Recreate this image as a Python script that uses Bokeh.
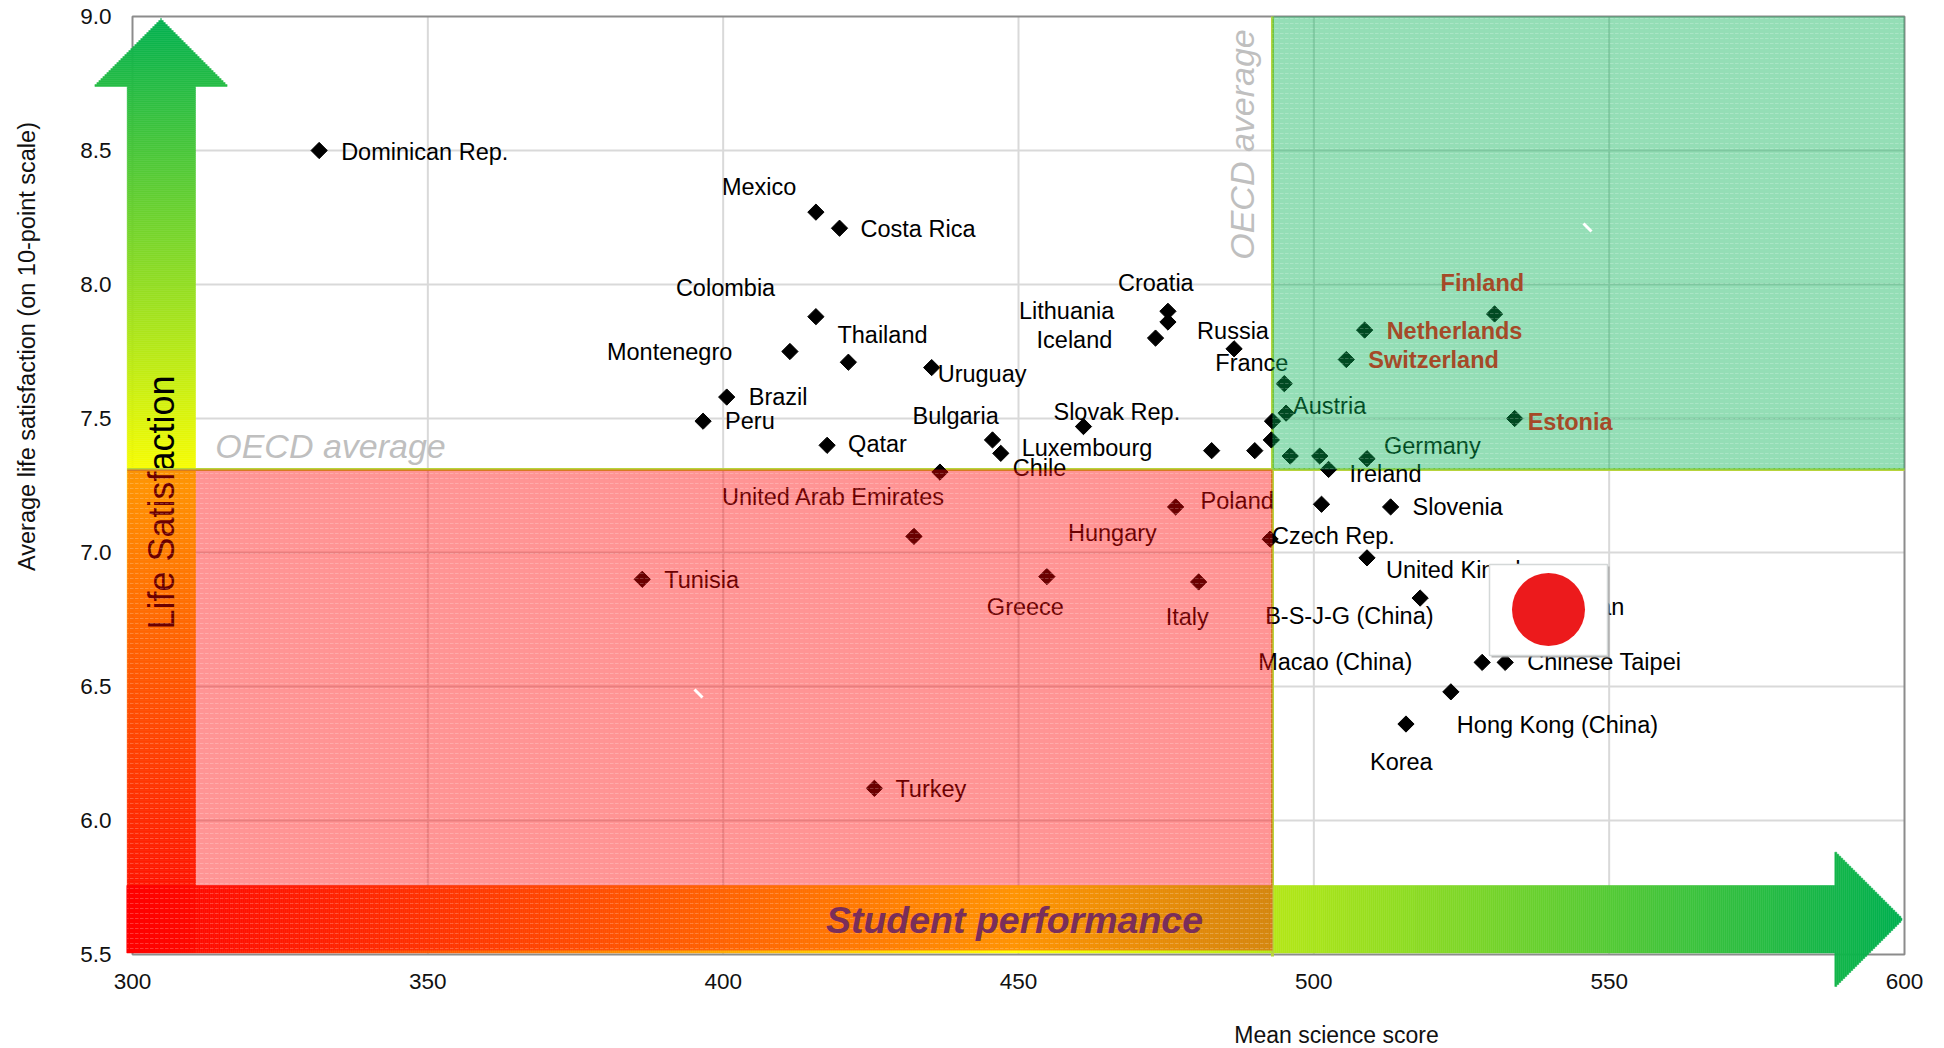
import math
from bokeh.plotting import figure
from bokeh.models import ColumnDataSource, FixedTicker, NumeralTickFormatter
from bokeh.core.properties import value
from bokeh.embed import file_html
from bokeh.resources import INLINE

# ---------------- data ----------------
countries = ["Dominican Rep.", "Mexico", "Costa Rica", "Colombia", "Montenegro", "Thailand", "Brazil", "Peru",
             "Qatar", "Uruguay", "Bulgaria", "Chile", "Luxembourg", "Slovak Rep.", "Croatia", "Lithuania",
             "Iceland", "Russia", "France", "Austria", "Germany", "Ireland", "Slovenia", "Czech Rep.",
             "United Kingdom", "B-S-J-G (China)", "Macao (China)", "Chinese Taipei", "Hong Kong (China)", "Korea",
             "Japan", "United Arab Emirates", "Hungary", "Poland", "Tunisia", "Greece", "Italy", "Turkey",
             "", "", "", "", "", ""]
science = [331.6, 415.7, 419.7, 415.7, 411.3, 421.2, 400.6, 396.6,
           417.6, 435.3, 445.6, 447.0, 482.7, 461.0, 475.3, 475.3,
           473.2, 486.5, 495.0, 495.3, 509.0, 502.5, 513.0, 492.6,
           509.0, 518.0, 528.5, 532.4, 523.2, 515.6,
           538.0, 436.7, 432.3, 476.6, 386.3, 454.8, 480.5, 425.6,
           493.0, 492.8, 490.0, 496.0, 501.0, 501.3]
life = [8.50, 8.27, 8.21, 7.88, 7.75, 7.71, 7.58, 7.49,
        7.40, 7.69, 7.42, 7.37, 7.38, 7.47, 7.90, 7.86,
        7.80, 7.76, 7.63, 7.52, 7.35, 7.31, 7.17, 7.05,
        6.98, 6.83, 6.59, 6.59, 6.48, 6.36,
        6.80, 7.30, 7.06, 7.17, 6.90, 6.91, 6.89, 6.12,
        7.49, 7.42, 7.38, 7.36, 7.36, 7.18]
top_countries = ["Finland", "Netherlands", "Switzerland", "Estonia"]
top_science = [530.6, 508.6, 505.5, 534.0]
top_life = [7.89, 7.83, 7.72, 7.50]
x_ticks = [300, 350, 400, 450, 500, 550, 600]
y_ticks = [5.5, 6.0, 6.5, 7.0, 7.5, 8.0, 8.5, 9.0]
oecd_science = 493
oecd_life = 7.31

# ---------------- layout: label offsets in px (left edge, vertical centre) ----------------
label_offset = {
    "Dominican Rep.": (22, 1), "Mexico": (-94, -25), "Costa Rica": (21, 1), "Colombia": (-140, -29),
    "Montenegro": (-183, 0), "Thailand": (-11, -27), "Brazil": (22, 0), "Peru": (22, 0), "Qatar": (21, -1),
    "Uruguay": (6, 6), "Bulgaria": (-80, -24), "Chile": (12, 15), "Luxembourg": (-190, -3),
    "Slovak Rep.": (-30, -15), "Croatia": (-50, -28.5), "Lithuania": (-149, -11), "Iceland": (-119, 2),
    "Russia": (-37, -18), "France": (-69, -21), "Austria": (7, -7), "Germany": (17, -13), "Ireland": (21, 5),
    "Slovenia": (22, 0), "Czech Rep.": (2, -3), "United Kingdom": (19, 12), "B-S-J-G (China)": (-155, 18),
    "Macao (China)": (-224, 0), "Chinese Taipei": (22, 0), "Hong Kong (China)": (6, 33), "Korea": (-36, 38),
    "Japan": (22, 1), "United Arab Emirates": (-218, 25), "Hungary": (154, -3.5), "Poland": (25, -6),
    "Tunisia": (22, 1), "Greece": (-60, 30), "Italy": (-33, 35), "Turkey": (21, 1),
    "Finland": (-54, -31), "Netherlands": (22, 1), "Switzerland": (22, 0), "Estonia": (13, 3),
}

FONT = value("Liberation Sans")
W, H = 1940, 1048
# picture pixel positions of the plot box
PX_L, PX_R, PY_T, PY_B = 132.0, 1904.0, 16.0, 954.0
SX = (PX_R - PX_L) / 300.0
SY = (PY_B - PY_T) / 3.5
def X(px):
    return 300 + (px - PX_L) / SX
def Y(py):
    return 9 - (py - PY_T) / SY

p = figure(width=W, height=H, output_backend="svg", toolbar_location=None,
           x_range=(X(0), X(W)), y_range=(Y(H), Y(0)),
           min_border_left=0, min_border_right=0, min_border_top=0, min_border_bottom=0)
p.outline_line_color = None
p.background_fill_color = "white"
p.grid.visible = False

for ax, ticks, loc in ((p.xaxis[0], x_ticks, 5.5), (p.yaxis[0], y_ticks, 300)):
    ax.ticker = FixedTicker(ticks=ticks)
    ax.fixed_location = loc
    ax.axis_line_color = None
    ax.major_tick_line_color = None
    ax.minor_tick_line_color = None
    ax.major_tick_out = 0
    ax.major_tick_in = 0
    ax.major_label_text_font = "Liberation Sans"
    ax.major_label_text_font_size = "22.5px"
    ax.major_label_text_color = "#111111"
p.xaxis[0].major_label_standoff = 19
p.yaxis[0].major_label_standoff = 21
p.yaxis[0].formatter = NumeralTickFormatter(format="0.0")

# grid lines, limited to the plot box
p.segment(x0=x_ticks[1:-1], x1=x_ticks[1:-1], y0=[5.5] * 5, y1=[9] * 5, line_color="#d9d9d9", line_width=2)
p.segment(x0=[300] * 6, x1=[600] * 6, y0=y_ticks[1:-1], y1=y_ticks[1:-1], line_color="#d9d9d9", line_width=2)
p.quad(left=[300], right=[600], bottom=[5.5], top=[9], fill_color=None, line_color="#8c8c8c", line_width=2)

# ---------------- gradient arrows ----------------
def grad(t):
    """t=0 red, .5 yellow, 1 green"""
    red, yel, grn = (255, 0, 0), (255, 255, 0), (0, 176, 80)
    a, b, f = (red, yel, t / .5) if t < .5 else (yel, grn, (t - .5) / .5)
    return "#%02x%02x%02x" % tuple(round(a[i] + (b[i] - a[i]) * f) for i in range(3))

# vertical arrow
slices = {k: [] for k in "lrbtc"}
V_L, V_R, V_HL, V_HR, V_TIP, V_NECK, V_BOT = 126.7, 195.0, 92.7, 228.3, 17.7, 85.7, 952.0
V_C = (V_HL + V_HR) / 2
py = V_BOT
while py > V_TIP:
    top = max(py - 2, V_TIP)
    if top >= V_NECK:
        l, r = V_L, V_R
    else:
        half = (V_HR - V_HL) / 2 * (top - V_TIP) / (V_NECK - V_TIP)
        l, r = V_C - half, V_C + half
    slices["l"].append(X(l)); slices["r"].append(X(r))
    slices["b"].append(Y(py)); slices["t"].append(Y(top))
    slices["c"].append(grad((V_BOT - py) / (V_BOT - V_TIP)))
    py = top
p.quad(left=slices["l"], right=slices["r"], bottom=slices["b"], top=slices["t"],
       fill_color=slices["c"], line_color=slices["c"], line_width=0.5)

p.text(x=[X(161)], y=[Y(502)], text=["Life Satisfaction"], angle=math.pi / 2, text_align="center",
       text_baseline="middle", text_font=FONT, text_font_size="36px", text_color="black")

# horizontal arrow
slices = {k: [] for k in "lrbtc"}
H_T, H_B, H_HT, H_HB, H_TIP, H_NECK, H_L = 885.0, 952.5, 851.0, 986.7, 1901.5, 1833.6, 126.3
H_C = (H_HT + H_HB) / 2
px = H_L
while px < H_TIP:
    right = min(px + 2, H_TIP)
    if px <= H_NECK:
        t, b = H_T, H_B
    else:
        half = (H_HB - H_HT) / 2 * (H_TIP - px) / (H_TIP - H_NECK)
        t, b = H_C - half, H_C + half
    slices["l"].append(X(px)); slices["r"].append(X(right))
    slices["t"].append(Y(t)); slices["b"].append(Y(b))
    slices["c"].append(grad((px - H_L) / (H_TIP - H_L)))
    px = right
p.quad(left=slices["l"], right=slices["r"], bottom=slices["b"], top=slices["t"],
       fill_color=slices["c"], line_color=slices["c"], line_width=0.5)

# OECD average lines
p.line(x=[X(126.7), 600], y=[oecd_life, oecd_life], line_color="#b8d43c", line_width=3)
p.line(x=[oecd_science, oecd_science], y=[Y(956), 9], line_color="#b8d43c", line_width=3)

# ---------------- points and labels under the translucent panels ----------------
p.scatter(science + top_science, life + top_life, marker="square", angle=math.pi / 4, size=11.5,
          fill_color="black", line_color="black")

named = [(n, sx, ly) for n, sx, ly in zip(countries, science, life) if n]
src = ColumnDataSource(dict(
    x=[n[1] for n in named], y=[n[2] for n in named], text=[n[0] for n in named],
    dx=[label_offset[n[0]][0] for n in named], dy=[label_offset[n[0]][1] for n in named]))
p.text(x="x", y="y", text="text", x_offset="dx", y_offset="dy", source=src, text_align="left",
       text_baseline="middle", text_font=FONT, text_font_size="23.5px", text_color="black")

for (cx, cy, ang, txt) in ((330, 445, 0, "OECD average"), (1241, 144, math.pi / 2, "OECD average")):
    p.text(x=[X(cx)], y=[Y(cy)], text=[txt], angle=ang, text_align="center", text_baseline="middle",
           text_font=FONT, text_font_size="34px", text_font_style="italic", text_color="#bfbfbf")

# ---------------- translucent panels ----------------
p.quad(left=[X(126.7)], right=[oecd_science], bottom=[Y(950)], top=[oecd_life],
       fill_color="#ff0000", fill_alpha=0.42, line_color=None,
       hatch_pattern="horizontal_dash", hatch_color="white", hatch_alpha=0.22, hatch_scale=5)
p.quad(left=[oecd_science], right=[600], bottom=[oecd_life], top=[9],
       fill_color="#00b050", fill_alpha=0.42, line_color=None,
       hatch_pattern="horizontal_dash", hatch_color="white", hatch_alpha=0.22, hatch_scale=5)

# ---------------- items above the panels ----------------
src2 = ColumnDataSource(dict(x=top_science, y=top_life, text=top_countries,
                             dx=[label_offset[n][0] for n in top_countries],
                             dy=[label_offset[n][1] for n in top_countries]))
p.text(x="x", y="y", text="text", x_offset="dx", y_offset="dy", source=src2, text_align="left",
       text_baseline="middle", text_font=FONT, text_font_size="23.5px", text_font_style="bold", text_color="#a54a28")

p.text(x=[X(1014)], y=[Y(919)], text=["Student performance"], text_align="center", text_baseline="middle",
       text_font=FONT, text_font_size="37.5px", text_font_style="bold italic", text_color="#7a2e5a")

# axis titles
p.text(x=[X(26)], y=[Y(346)], text=["Average life satisfaction (on 10-point scale)"], angle=math.pi / 2,
       text_align="center", text_baseline="middle", text_font=FONT, text_font_size="23.5px", text_color="#111111")
p.text(x=[X(1336)], y=[Y(1034)], text=["Mean science score"], text_align="center", text_baseline="middle",
       text_font=FONT, text_font_size="23px", text_color="#111111")

# flag
p.quad(left=[X(1491)], right=[X(1609)], top=[Y(566)], bottom=[Y(657)], fill_color="#9a9a9a", fill_alpha=0.8, line_color=None)
p.quad(left=[X(1489)], right=[X(1607)], top=[Y(564)], bottom=[Y(655)], fill_color="white", line_color="#d4d8d8", line_width=1.5)
p.scatter([X(1548)], [Y(609)], marker="circle", size=73, fill_color="#ec1a1c", line_color=None)

# small white marks
p.multi_line(xs=[[X(1583), X(1591)], [X(694), X(702)]], ys=[[Y(223), Y(231)], [Y(689), Y(697)]],
             line_color="white", line_width=3)

open("out.html", "w").write(file_html(p, INLINE))
